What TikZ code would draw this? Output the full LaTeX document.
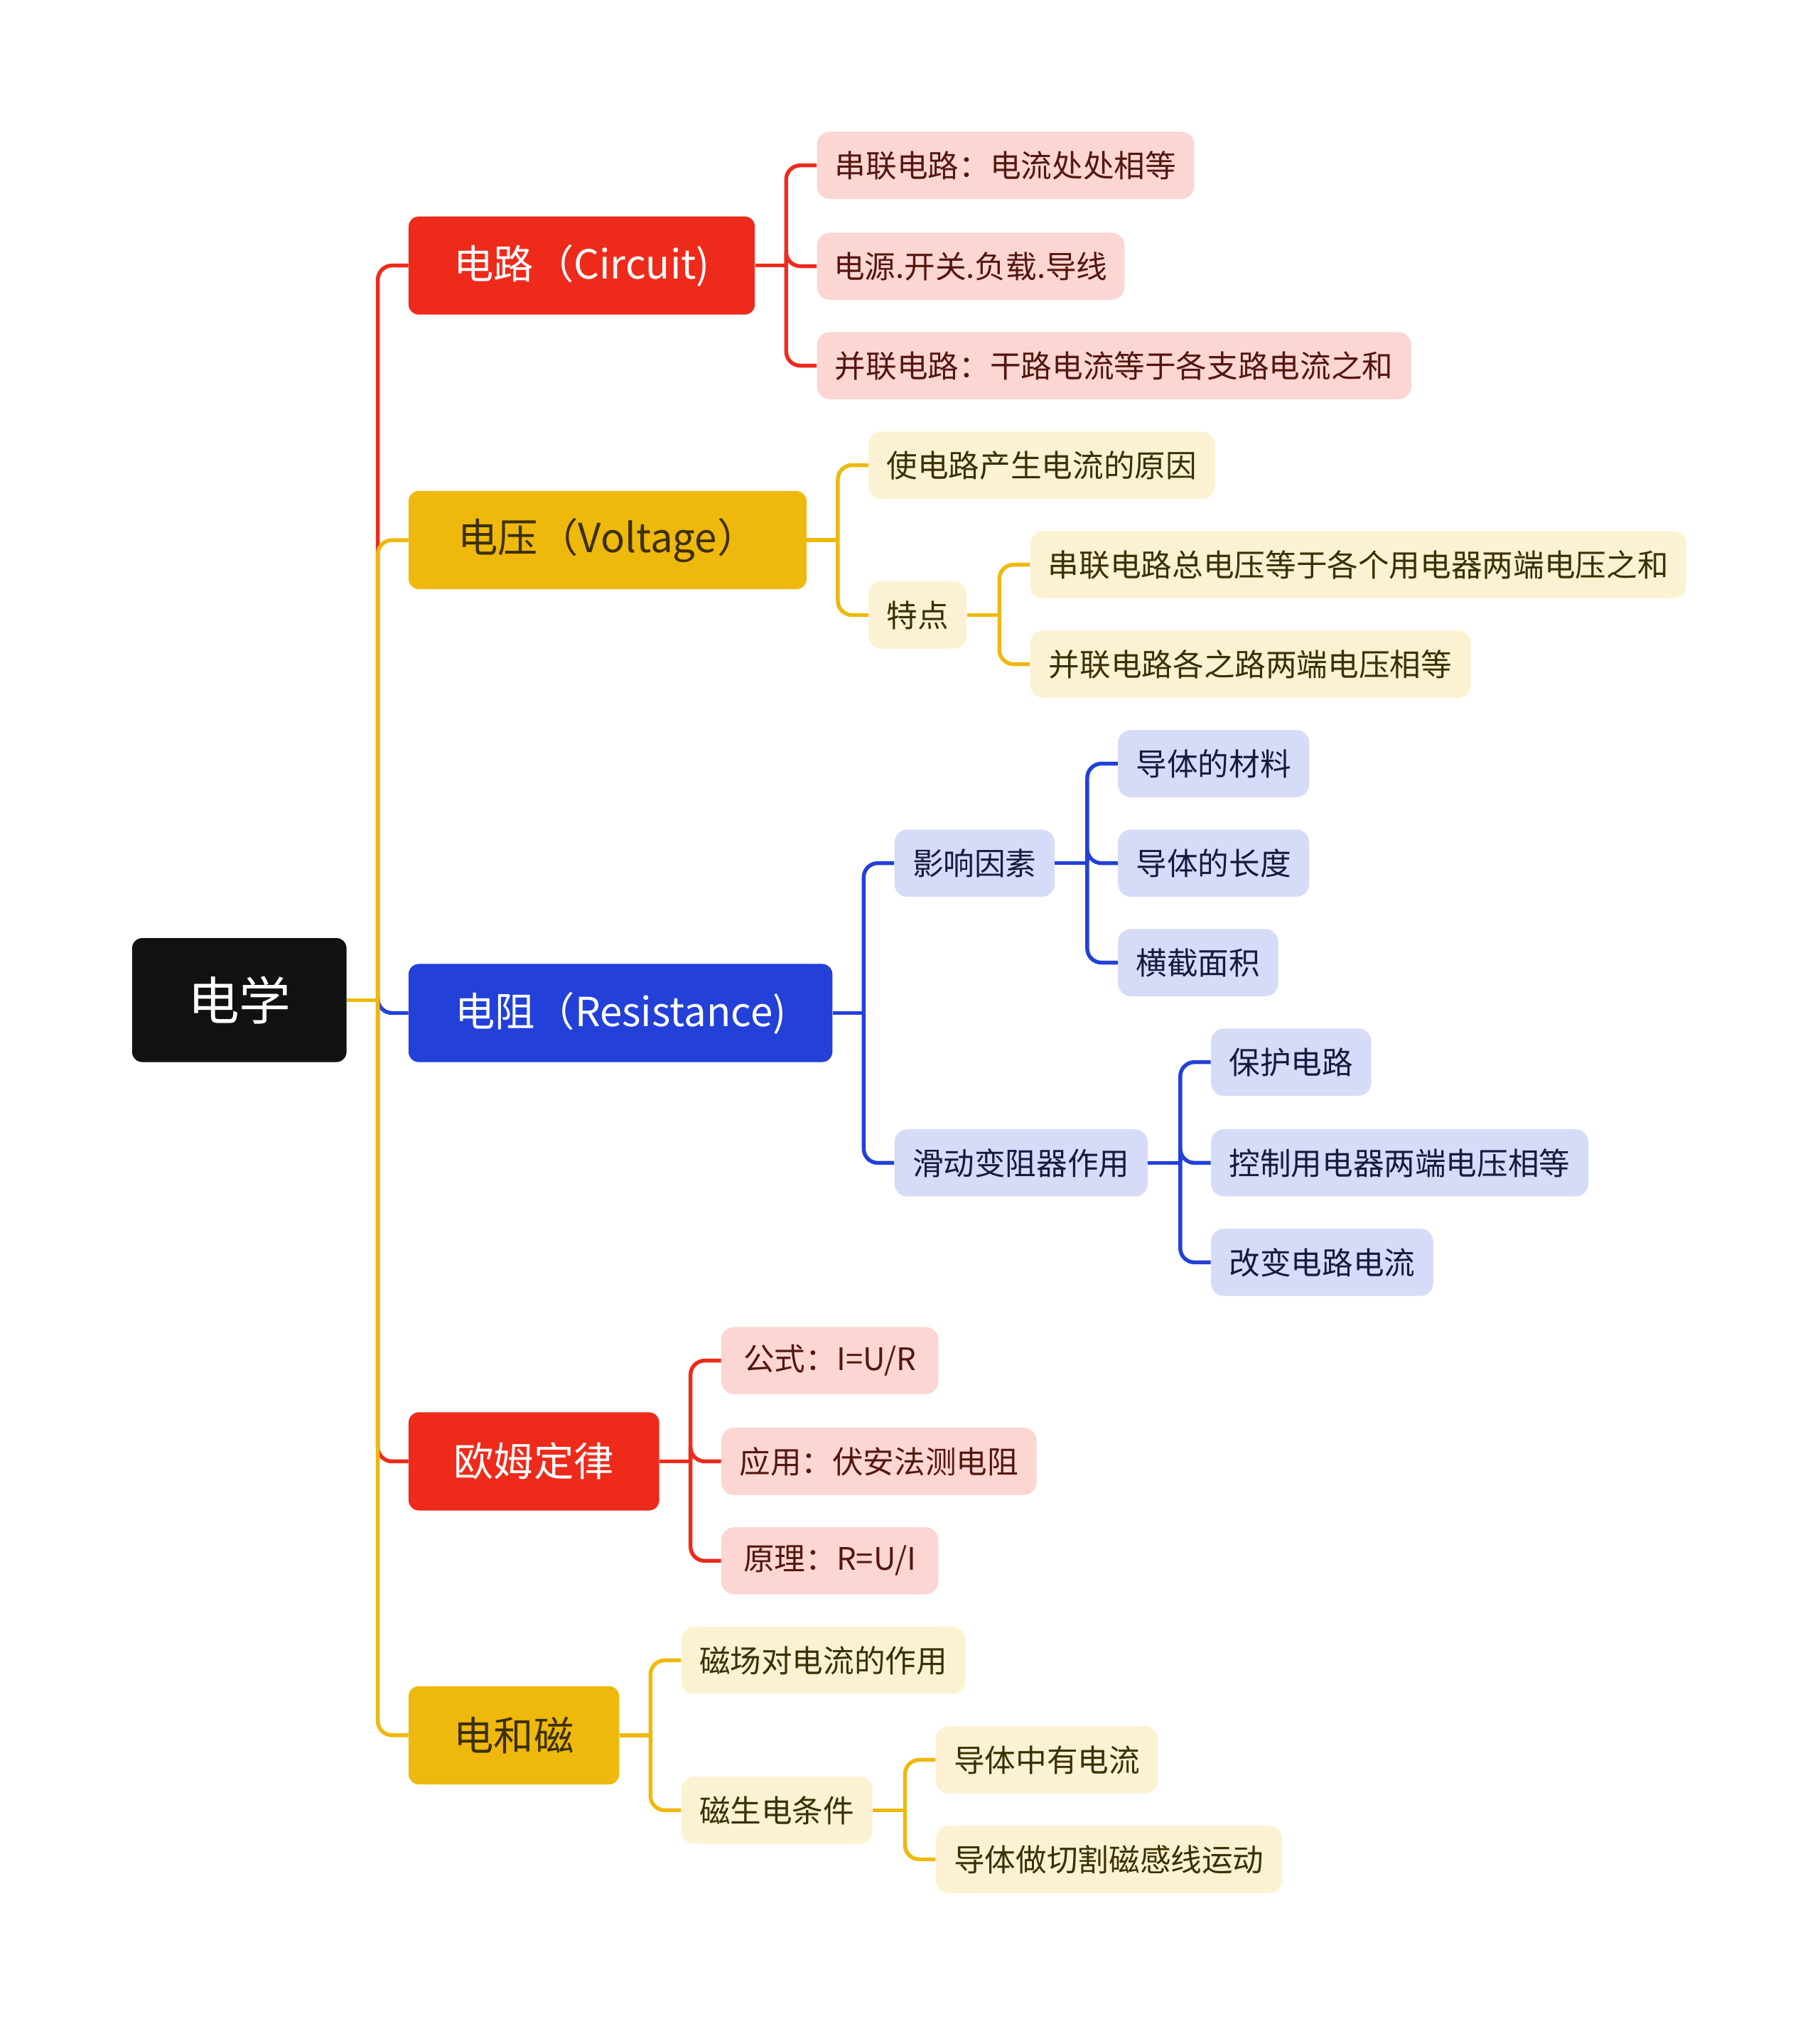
\documentclass[tikz,border=0pt]{standalone}
\usepackage{fontspec}
\setmainfont{Noto Sans CJK SC}
\definecolor{rootc}{HTML}{111111}
\definecolor{redc}{HTML}{EE2A1B}
\definecolor{yelc}{HTML}{EFB80C}
\definecolor{bluc}{HTML}{2340D8}
\definecolor{pinkc}{HTML}{FBD6D2}
\definecolor{creamc}{HTML}{FCF2D3}
\definecolor{lavc}{HTML}{D6DBF7}
\definecolor{redtx}{HTML}{55160F}
\definecolor{yeltx}{HTML}{3B3000}
\definecolor{blutx}{HTML}{151B40}
\begin{document}
\begin{tikzpicture}[x=1pt,y=-1pt,
  rootbox/.style={fill=rootc, text=white, rounded corners=8pt, minimum height=96pt, inner xsep=6pt, font=\fontsize{40}{48}\selectfont, anchor=west},
  lone/.style={rounded corners=8pt, minimum height=76pt, inner xsep=6pt, font=\fontsize{31}{37}\selectfont, anchor=west},
  leaf/.style={rounded corners=10pt, minimum height=52pt, inner xsep=6pt, font=\fontsize{24}{29}\selectfont, anchor=west},
  rl/.style={leaf, fill=pinkc, text=redtx},
  yl/.style={leaf, fill=creamc, text=yeltx},
  bl/.style={leaf, fill=lavc, text=blutx},
  br/.style={line width=3pt, rounded corners=11pt},
]
\useasboundingbox (0,0) rectangle (1408,1568);
% root
\node[rootbox, minimum width=166pt] (root) at (102,774) {电学};
% level 1
\node[lone, fill=redc, text=white, minimum width=268pt] (circ) at (316,205.5) {电路（Circuit)};
\node[lone, fill=yelc, text=yeltx, minimum width=308pt] (volt) at (316,418) {电压（Voltage）};
\node[lone, fill=bluc, text=white, minimum width=328pt] (res) at (316,784) {电阻（Resistance)};
\node[lone, fill=redc, text=white, minimum width=194pt] (ohm) at (316,1131) {欧姆定律};
\node[lone, fill=yelc, text=yeltx, minimum width=163pt] (em) at (316,1343) {电和磁};
% circuit leaves
\node[rl, minimum width=292pt] (c1) at (632,128) {串联电路：电流处处相等};
\node[rl, minimum width=238pt] (c2) at (632,206) {电源.开关.负载.导线};
\node[rl, minimum width=460pt] (c3) at (632,283) {并联电路：干路电流等于各支路电流之和};
% voltage
\node[yl, minimum width=268pt] (v1) at (672,360) {使电路产生电流的原因};
\node[yl, minimum width=76pt] (v2) at (672,476) {特点};
\node[yl, minimum width=508pt] (v21) at (797,437) {串联电路总电压等于各个用电器两端电压之和};
\node[yl, minimum width=341pt] (v22) at (797,514) {并联电路各之路两端电压相等};
% resistance
\node[bl, minimum width=124pt] (r1) at (692,668) {影响因素};
\node[bl, minimum width=148pt] (r11) at (865,591) {导体的材料};
\node[bl, minimum width=148pt] (r12) at (865,668) {导体的长度};
\node[bl, minimum width=124pt] (r13) at (865,745) {横截面积};
\node[bl, minimum width=196pt] (r2) at (692,900) {滑动变阻器作用};
\node[bl, minimum width=124pt] (r21) at (937,822) {保护电路};
\node[bl, minimum width=292pt] (r22) at (937,900) {控制用电器两端电压相等};
\node[bl, minimum width=172pt] (r23) at (937,977) {改变电路电流};
% ohm
\node[rl, minimum width=168pt] (o1) at (558,1053) {公式：I=U/R};
\node[rl, minimum width=244pt] (o2) at (558,1131) {应用：伏安法测电阻};
\node[rl, minimum width=168pt] (o3) at (558,1208) {原理：R=U/I};
% electricity and magnetism
\node[yl, minimum width=220pt] (e1) at (527,1285) {磁场对电流的作用};
\node[yl, minimum width=148pt] (e2) at (527,1401) {磁生电条件};
\node[yl, minimum width=172pt] (e21) at (724,1362) {导体中有电流};
\node[yl, minimum width=268pt] (e22) at (724,1439) {导体做切割磁感线运动};
% junction coordinates
\coordinate (rj) at ([xshift=24pt]root.east);
\coordinate (cj) at ([xshift=24pt]circ.east);
\coordinate (vj) at ([xshift=24pt]volt.east);
\coordinate (v2j) at ([xshift=25pt]v2.east);
\coordinate (resj) at ([xshift=24pt]res.east);
\coordinate (r1j) at ([xshift=25pt]r1.east);
\coordinate (r2j) at ([xshift=25pt]r2.east);
\coordinate (oj) at ([xshift=24pt]ohm.east);
\coordinate (ej) at ([xshift=24pt]em.east);
\coordinate (e2j) at ([xshift=25pt]e2.east);
% root branches
\draw[br, redc] (rj) |- (circ.west);
\draw[br, bluc] (rj) |- (res.west);
\draw[br, redc] (rj) |- (ohm.west);
\draw[br, yelc] (rj) |- (volt.west);
\draw[br, yelc] (rj) |- (em.west);
\draw[br, yelc] (root.east) -- (rj);
% circuit
\draw[br, redc] (circ.east) -- (cj);
\draw[br, redc] (cj) |- (c1.west);
\draw[br, redc] (cj) |- (c2.west);
\draw[br, redc] (cj) |- (c3.west);
% voltage
\draw[br, yelc] (volt.east) -- (vj);
\draw[br, yelc] (vj) |- (v1.west);
\draw[br, yelc] (vj) |- (v2.west);
\draw[br, yelc] (v2.east) -- (v2j);
\draw[br, yelc] (v2j) |- (v21.west);
\draw[br, yelc] (v2j) |- (v22.west);
% resistance
\draw[br, bluc] (res.east) -- (resj);
\draw[br, bluc] (resj) |- (r1.west);
\draw[br, bluc] (resj) |- (r2.west);
\draw[br, bluc] (r1.east) -- (r1j);
\draw[br, bluc] (r1j) |- (r11.west);
\draw[br, bluc] (r1j) |- (r12.west);
\draw[br, bluc] (r1j) |- (r13.west);
\draw[br, bluc] (r2.east) -- (r2j);
\draw[br, bluc] (r2j) |- (r21.west);
\draw[br, bluc] (r2j) |- (r22.west);
\draw[br, bluc] (r2j) |- (r23.west);
% ohm
\draw[br, redc] (ohm.east) -- (oj);
\draw[br, redc] (oj) |- (o1.west);
\draw[br, redc] (oj) |- (o2.west);
\draw[br, redc] (oj) |- (o3.west);
% em
\draw[br, yelc] (em.east) -- (ej);
\draw[br, yelc] (ej) |- (e1.west);
\draw[br, yelc] (ej) |- (e2.west);
\draw[br, yelc] (e2.east) -- (e2j);
\draw[br, yelc] (e2j) |- (e21.west);
\draw[br, yelc] (e2j) |- (e22.west);
\end{tikzpicture}
\end{document}
